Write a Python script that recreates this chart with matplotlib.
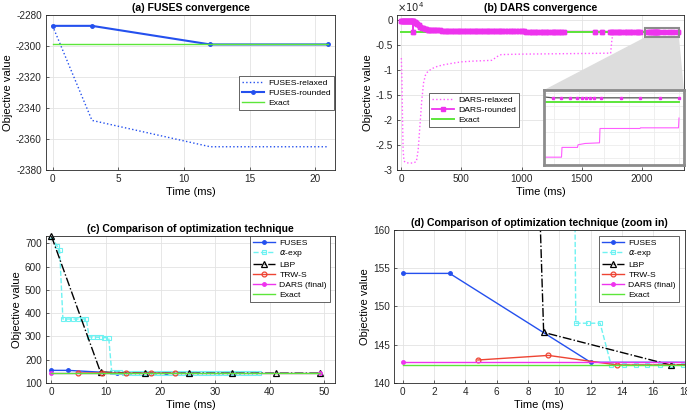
import matplotlib
matplotlib.use("Agg")
import matplotlib.pyplot as plt
from matplotlib.patches import Polygon, Rectangle
from matplotlib.ticker import MultipleLocator, FuncFormatter

plt.rcParams['font.family'] = ['Liberation Sans', 'DejaVu Sans']
plt.rcParams['axes.unicode_minus'] = False
plt.rcParams['mathtext.fontset'] = 'dejavusans'

# ---------------- data ----------------
# (a) FUSES convergence
a_t = [0, 3, 12, 21]
a_relaxed = [-2287, -2348, -2365, -2365]
a_rounded = [-2287, -2287, -2299, -2299]
a_exact = -2299

# (b) DARS convergence
b_rel_t = [0, 5, 10, 15, 22, 35, 60, 100, 125, 140, 155, 170, 185, 200, 215, 250, 300,
           350, 420, 500, 600, 700, 750, 770, 800, 830, 900, 1000, 1200, 1400, 1600, 1740,
           1750, 1760, 1800, 1900, 2030, 2065, 2066, 2097, 2098, 2112, 2141, 2142, 2222,
           2223, 2299, 2300]
b_rel_v = [-7550, -12000, -20000, -26000, -28200, -28500, -28600, -28600, -28300, -26000,
           -21000, -16000, -12500, -11000, -10400, -9700, -9200, -8900, -8600, -8300, -8150,
           -8050, -8000, -7700, -7200, -6850, -6800, -6750, -6700, -6650, -6600, -6550,
           -4000, -2450, -2400, -2380, -2358, -2358, -2343, -2343, -2339, -2337, -2336,
           -2314, -2314, -2313, -2313, -2298]
b_rnd_t = [0, 8, 16, 24, 32, 40, 48, 56, 64, 72, 80, 88, 96, 97, 98,
           110, 122, 134, 146, 158, 170, 182, 194, 206, 218, 230, 245, 260,
           280, 300, 320, 340, 360, 380, 400, 420, 440, 460, 480, 500, 520, 540, 560,
           580, 600, 620, 640, 660, 680, 700, 720, 740, 760,
           780, 800, 820, 840, 860, 890, 910, 930, 950, 980, 1000, 1020, 1040, 1070,
           1090, 1110, 1130, 1160, 1180, 1200, 1220, 1250, 1270, 1290, 1310, 1330, 1350,
           1614, 1667, 1736, 1752, 1770, 1790, 1810, 1830, 1860, 1880, 1900, 1920, 1950,
           1970, 1986,
           2047, 2064, 2082, 2096, 2106, 2113, 2122, 2129, 2143, 2183, 2222, 2262, 2299]
b_rnd_v = [-120, -120, -120, -120, -120, -120, -120, -120, -120, -120, -120, -120, -120,
           -2270, -150,
           -300, -500, -750, -1000, -1250, -1450, -1600, -1720, -1800, -1860, -1900, -1930,
           -1950,
           -1980, -1990, -2000, -2010, -2020, -2030, -2040, -2050, -2060, -2070, -2080,
           -2085, -2090, -2095, -2100, -2105, -2110, -2115, -2120, -2125, -2130, -2135,
           -2140, -2145, -2150,
           -2155, -2160, -2165, -2170, -2175, -2180, -2185, -2190, -2195, -2200, -2205,
           -2210, -2212, -2215, -2218, -2220, -2222, -2225, -2228, -2230, -2232, -2234,
           -2236, -2238, -2240, -2242, -2244,
           -2246, -2248, -2250, -2251, -2252, -2253, -2254, -2255, -2256, -2257, -2258,
           -2259, -2260, -2261, -2262,
           -2267, -2267, -2267, -2267, -2267, -2267, -2267, -2267, -2267, -2267, -2267,
           -2267, -2267]
b_exact = -2274

# (c)/(d) comparison
fuses_t = [0, 3, 12, 21]
fuses_v = [154.3, 154.3, 142.7, 142.7]
alpha_t = [0, 1.0, 1.5, 2.1, 3.0, 3.9, 4.8, 5.7, 6.4, 6.9, 7.6, 8.3, 9.0, 9.7, 10.5,
           11.05, 11.8, 12.6, 13.3, 14.1, 14.9, 15.6, 16.4, 17.2, 17.9, 18.7, 19.5, 20.2,
           21.0, 21.8, 22.6, 23.3, 24.1, 24.9, 25.6, 26.4, 27.2, 28.0, 28.7, 29.5, 30.3,
           31.0, 31.8, 32.6, 33.4, 34.1, 34.9, 35.7, 36.4, 37.2, 38.0]
alpha_v = [731, 690, 670, 375, 375, 375, 375, 375, 375, 298, 298, 297, 296, 295, 295,
           147.8, 147.8, 147.8, 142.4, 142.4, 142.4, 142.4, 142.4, 142.4, 142.4, 142.4,
           142.4, 142.4, 142.4, 142.4, 142.4, 142.4, 142.4, 142.4, 142.4, 142.4, 142.4,
           142.4, 142.4, 142.4, 142.4, 142.4, 142.4, 142.4, 142.4, 142.4, 142.4, 142.4,
           142.4, 142.4, 142.4]
lbp_t = [0, 9, 17.1, 25.2, 33.2, 41.2, 49.2]
lbp_v = [731, 146.6, 142.35, 142.35, 142.35, 142.35, 142.35]
trws_t = [4.8, 9.3, 13.7, 18.2, 22.6]
trws_v = [143.0, 143.6, 142.35, 142.35, 142.35]
dars_t = [0, 49.3]
dars_v = [142.7, 142.7]
exact_t = [0, 49.3]
exact_v = [142.35, 142.35]

# ---------------- style ----------------
BLUE = '#2450ee'
GREEN = '#5ce63a'
MAG = '#ee33ee'
MAG_L = '#ff5cff'
CYAN = '#6ef2f2'
RED = '#ee4433'
TICK_FS = 7.2
LAB_FS = 8.0
TITLE_FS = 7.6
LEG_FS = 6.1

W, H = 687, 418
fig = plt.figure(figsize=(W / 100, H / 100), dpi=100)


def px_axes(l, t, r, b):
    return fig.add_axes([l / W, 1 - b / H, (r - l) / W, (b - t) / H])


def style(ax):
    for s in ax.spines.values():
        s.set_color('#262626')
        s.set_linewidth(0.6)
    ax.tick_params(direction='in', length=2.5, width=0.5, labelsize=TICK_FS,
                   colors='#262626', pad=3)
    ax.grid(True, color='#e3e3e3', linewidth=0.6)
    ax.set_axisbelow(True)


def legend(ax, loc, anchor):
    lg = ax.legend(loc=loc, bbox_to_anchor=anchor, fontsize=LEG_FS, handlelength=2.6,
                   labelspacing=0.22, borderpad=0.35, handletextpad=0.5,
                   fancybox=False, framealpha=1, edgecolor='#262626', borderaxespad=0)
    lg.get_frame().set_linewidth(0.5)
    return lg


# (a)
ax = px_axes(46, 15, 335, 170)
style(ax)
ax.plot(a_t, a_relaxed, ':', color=BLUE, lw=1.0, label='FUSES-relaxed')
ax.plot(a_t, a_rounded, '-', color=BLUE, lw=1.5, marker='.', ms=5, label='FUSES-rounded')
ax.plot([a_t[0], a_t[-1]], [a_exact, a_exact], '-', color=GREEN, lw=1.0, label='Exact')
ax.set_xlim(-0.5, 21.5)
ax.set_ylim(-2380, -2280)
ax.xaxis.set_major_locator(MultipleLocator(5))
ax.yaxis.set_major_locator(MultipleLocator(20))
ax.set_title('(a) FUSES convergence', fontsize=TITLE_FS, fontweight='bold', pad=3)
ax.set_xlabel('Time (ms)', fontsize=LAB_FS, labelpad=2)
ax.set_ylabel('Objective value', fontsize=LAB_FS, labelpad=2)
legend(ax, 'upper right', (0.997, 0.606))

# (b)
axb = px_axes(397, 15, 684, 170)
style(axb)
axb.plot(b_rel_t, b_rel_v, ':', color=MAG_L, lw=1.0, label='DARS-relaxed')
axb.plot(b_rnd_t, b_rnd_v, '-', color=MAG, lw=1.3, marker='s', ms=2.2, label='DARS-rounded')
axb.plot([0, 2300], [b_exact, b_exact], '-', color=GREEN, lw=1.4, label='Exact')
axb.plot(b_rnd_t, b_rnd_v, 's', color=MAG, ms=2.2, zorder=2.5)
axb.set_xlim(-36, 2350)
axb.set_ylim(-30000, 1100)
axb.xaxis.set_major_locator(MultipleLocator(500))
axb.yaxis.set_major_locator(MultipleLocator(5000))
axb.yaxis.set_major_formatter(FuncFormatter(lambda v, p: '%g' % (v / 1e4)))
axb.text(0.0, 1.005, r'$\times10^4$', transform=axb.transAxes, fontsize=TICK_FS,
         ha='left', va='bottom', color='#262626')
axb.set_title('(b) DARS convergence', fontsize=TITLE_FS, fontweight='bold', pad=3)
axb.set_xlabel('Time (ms)', fontsize=LAB_FS, labelpad=2)
axb.set_ylabel('Objective value', fontsize=LAB_FS, labelpad=2)
legend(axb, 'upper left', (0.11, 0.495))
# zoom box
axb.add_patch(Rectangle((2027, -3330), 283, 1800, fill=False, edgecolor='#8c8c8c',
                        lw=1.5, zorder=5))
poly = Polygon([(645 / W, 1 - 37.3 / H), (679 / W, 1 - 37.3 / H), (684 / W, 1 - 90 / H),
                (544 / W, 1 - 90 / H)], closed=True, transform=fig.transFigure,
               facecolor='#dddddd', edgecolor='none', zorder=4, clip_on=False)
axb.add_patch(poly)

# inset
axi = px_axes(544, 90, 684, 165)
axi.set_zorder(3)
for s in axi.spines.values():
    s.set_color('#8c8c8c')
    s.set_linewidth(2.0)
axi.tick_params(length=0, labelbottom=False, labelleft=False)
axi.grid(True, color='#ececec', linewidth=0.6)
axi.set_axisbelow(True)
axi.plot(b_rel_t, b_rel_v, '-', color=MAG_L, lw=0.8)
axi.plot([0, 2300], [b_exact, b_exact], '-', color=GREEN, lw=1.4)
axi.plot(b_rnd_t, b_rnd_v, '-', color='#555555', lw=0.9, marker='s', ms=2.0,
         mfc=MAG, mec=MAG)
axi.set_xlim(2030, 2310)
axi.set_ylim(-2370, -2255)
axi.xaxis.set_major_locator(MultipleLocator(50))
axi.yaxis.set_major_locator(MultipleLocator(20))

# (c) and (d)
for k, (box, xl, yl, xs, ys, title, anchor) in enumerate([
        ((46, 235.7, 335, 383), (-1, 52), (100, 733), 10, 100,
         '(c) Comparison of optimization technique', (0.983, 1.0)),
        ((394, 229.7, 684.7, 383), (-0.55, 18), (140, 160), 2, 5,
         '(d) Comparison of optimization technique (zoom in)', (0.98, 0.961))]):
    ax = px_axes(*box)
    style(ax)
    ax.plot(fuses_t, fuses_v, '-', color=BLUE, lw=1.0, marker='.', ms=5, label='FUSES')
    ax.plot(alpha_t, alpha_v, '--', color=CYAN, lw=1.0, marker='s', ms=3, mfc='none',
            mew=0.8, label=r'$\alpha$-exp')
    ax.plot(lbp_t, lbp_v, '-.', color='black', lw=1.0, marker='^', ms=4, mfc='none',
            mew=0.9, label='LBP', clip_on=(k == 1))
    ax.plot(trws_t, trws_v, '-', color=RED, lw=1.0, marker='o', ms=3.5, mfc='none',
            mew=0.9, label='TRW-S')
    ax.plot(dars_t, dars_v, '-', color=MAG, lw=1.0, marker='.', ms=5,
            label='DARS (final)')
    ax.plot(exact_t, exact_v, '-', color=GREEN, lw=1.0, label='Exact')
    ax.set_xlim(*xl)
    ax.set_ylim(*yl)
    ax.xaxis.set_major_locator(MultipleLocator(xs))
    ax.yaxis.set_major_locator(MultipleLocator(ys))
    ax.set_title(title, fontsize=TITLE_FS, fontweight='bold', pad=3)
    ax.set_xlabel('Time (ms)', fontsize=LAB_FS, labelpad=2)
    ax.set_ylabel('Objective value', fontsize=LAB_FS, labelpad=2)
    legend(ax, 'upper right', anchor)

fig.savefig('out.png', dpi=100)
